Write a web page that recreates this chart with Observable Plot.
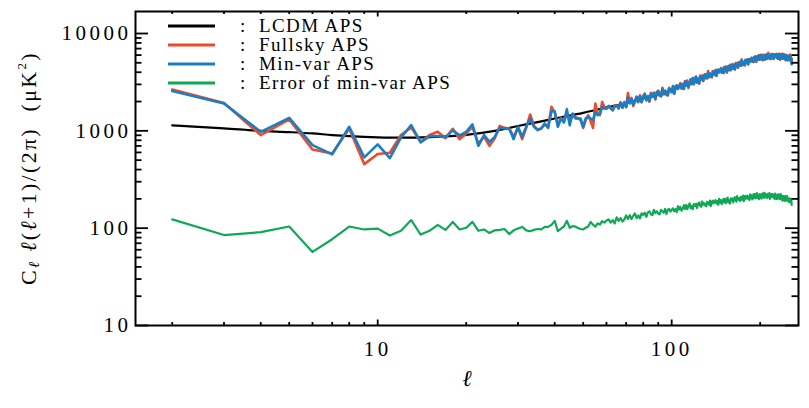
<!DOCTYPE html>
<html><head><meta charset="utf-8">
<script src="https://cdn.jsdelivr.net/npm/d3@7"></script>
<script src="https://cdn.jsdelivr.net/npm/@observablehq/plot@0.6"></script>
<style>
html,body{margin:0;padding:0;background:#fff;}
#chart{position:relative;width:809px;height:408px;}
</style></head><body><div id="chart"></div>
<script>
// multipoles l = 2..256
const ellFirst = 2, ellLast = 256;

// LCDM model spectrum (anchor multipoles and values, muK^2)
const lcdmEll = [2,3,4,5,6,7,8,9,10,12,15,20,25,30,35,40,50,60,70,80,90,100,110,120,130,140,150,160,170,180,190,200,220,240,256];
const lcdmVal = [1136,1060,1000,970,940,905,882,868,858,850,862,910,1000,1120,1230,1340,1530,1740,1930,2150,2380,2610,2940,3260,3580,3930,4200,4470,4840,5110,5400,5660,5840,5770,5450];

// Fullsky APS (red)
const fullsky = [
2660,1930,904,1310,644,586,1058,455,577,595,905,1083,771,905,977,840,1050,820,
940,1100,740,870,702,835,1125,1073,1058,868,
1073,822,1073,1473,1125,1030,1058,1163,1100,1763,
1550,1150,1360,1250,1508,1250,1450,1390,1340,1290,
1073,1290,1450,1250,1073,1910,1508,1450,1983,1763,
1680,1763,1720,1630,1835,1804,1700,
1971,1719,1978,1756,2450,1931,2180,1798,2019,2225,
1967,2318,1966,2285,2362,2064,2281,1998,2461,2225,
2472,2104,2511,2570,2291,2276,2774,2363,2590,2347,
2308,2768,2603,2550,2831,2408,2857,2914,2752,2824,
3088,2715,3049,2702,3179,2953,3293,2757,3074,3356,
3005,3501,3010,3453,3543,3144,3446,3053,3695,3361,
3696,3243,3762,3795,3462,3494,4105,3556,3875,3583,
3542,4124,3906,3909,4134,3685,4203,4214,4082,4081,
4411,3961,4351,3935,4443,4205,4591,3947,4314,4597,
4206,4763,4205,4704,4754,4353,4693,4255,4971,4579,
4982,4443,5060,5092,4684,4715,5417,4752,5116,4763,
4701,5363,5094,5098,5330,4832,5420,5420,5285,5265,
5648,5132,5586,5108,5652,5404,5842,5090,5514,5806,
5373,6002,5372,5937,5918,5474,5821,5304,6060,5580,
6007,5372,6029,6026,5555,5576,6324,5567,5949,5545,
5461,6155,5835,5830,6025,5490,6078,6031,5879,5802,
6187,5601,6042,5504,6063,5755,6180,5374,5778,6057,
5576,6182,5503,6039,6005,5533,5859,5317,6050,5546,
5947,5295,5915,5879,5389,5386,6083,5304,5629,4900];

// Min-var APS (blue)
const minvar = [
2570,1910,977,1360,713,573,1100,534,725,525,855,1144,760,882,882,860,1010,900,
977,1163,702,904,771,868,1073,1058,1058,822,
1100,868,1100,1340,1100,1017,1058,1190,1073,1592,
1592,1100,1340,1219,1670,1144,1508,1340,1340,1340,
1100,1340,1392,1340,1290,1566,1450,1508,1763,1700,
1700,1804,1700,1630,1763,1835,1700,
1926,1739,1918,1756,2200,1911,2100,1858,1999,2245,
1997,2268,1976,2215,2412,2064,2241,2018,2401,2265,
2427,2124,2451,2570,2331,2256,2694,2423,2570,2367,
2338,2718,2613,2480,2881,2408,2817,2934,2692,2864,
3020,2745,2959,2702,3239,2923,3173,2847,3044,3386,
3050,3426,3025,3348,3618,3144,3386,3083,3605,3421,
3615,3279,3654,3795,3534,3458,3961,3664,3839,3619,
3596,4034,3924,3783,4224,3685,4131,4250,3974,4153,
4321,4001,4231,3935,4523,4165,4431,4067,4274,4637,
4266,4663,4225,4564,4854,4353,4613,4295,4851,4659,
4883,4487,4928,5092,4772,4671,5241,4884,5072,4807,
4767,5253,5116,4944,5440,4832,5332,5464,5153,5353,
5536,5182,5436,5108,5752,5354,5642,5240,5464,5856,
5448,5877,5397,5762,6043,5474,5721,5354,5910,5680,
5895,5422,5879,6026,5655,5526,6124,5717,5899,5595,
5536,6030,5860,5655,6150,5490,5978,6081,5729,5902,
6075,5651,5892,5504,6163,5705,5980,5524,5728,6107,
5651,6057,5528,5864,6130,5533,5759,5367,5900,5646,
5835,5345,5765,5879,5489,5336,5883,5454,5579,4850];

// Error of min-var APS (green)
const minvarErr = [
123,85,91,104,57,77,104,97,99,84,
94,121,86,94,108,96,116,97,101,116,
94,97,89,95,96,98,87,95,99,103,
95,93,96,98,97,103,103,108,119,93,
99,104,119,101,105,104,100,98,97,101,
104,116,108,104,112,109,118,114,120,
123,114,121,112,129,119,127,117,123,135,
124,136,124,134,142,127,135,126,142,137,
144,131,145,149,139,136,154,143,149,141,
139,154,149,144,158,140,154,158,148,154,
160,149,157,146,168,155,165,151,159,172,
158,173,157,169,180,160,169,157,177,170,
178,161,178,184,170,166,188,174,181,171,
168,187,181,174,192,169,187,192,180,187,
194,179,189,174,200,183,194,177,185,200,
184,200,181,195,206,184,193,179,202,193,
202,184,201,208,194,188,213,197,204,193,
190,210,203,196,216,190,210,215,201,208,
216,200,210,195,223,205,216,198,207,224,
205,224,202,217,229,205,216,199,224,213,
223,201,222,228,211,205,231,213,221,207,
204,225,217,207,229,200,220,224,210,217,
223,206,216,199,227,208,218,199,207,223,
204,221,199,212,224,198,208,192,215,204,
212,191,209,214,198,191,214,196,202,189,
185,203,194,184,200,173];

const xTickLabels = [10, 100];
const xMinorTicks = [2,3,4,5,6,7,8,9,20,30,40,50,60,70,80,90,200];
const yTickLabels = [10, 100, 1000, 10000];
const yMinorTicks = [20,30,40,50,60,70,80,90,200,300,400,500,600,700,800,900,2000,3000,4000,5000,6000,7000,8000,9000];

const legendNames = ["LCDM APS", "Fullsky APS", "Min-var APS", "Error of min-var APS"];
const colors = {lcdm: "#000000", full: "#ee4a2b", minvar: "#1a7ec4", err: "#10a855"};

const W = 809, H = 408, mL = 135, mR = 11, mT = 11, mB = 83;
const plotW = W - mL - mR, plotH = H - mT - mB;
const FONT = "'Liberation Serif', 'Times New Roman', serif";

const ell = d3.range(ellFirst, ellLast + 1);
const toRows = vals => ell.map((l, i) => ({l, v: vals[i]}));
const lcdmRows = lcdmEll.map((l, i) => ({l, v: lcdmVal[i]}));

const tickW = 1.8;
const plot = Plot.plot({
  width: W, height: H,
  marginLeft: mL, marginRight: mR, marginTop: mT, marginBottom: mB,
  style: {fontFamily: FONT, background: "white", color: "black"},
  x: {type: "log", domain: [1.5, 270]},
  y: {type: "log", domain: [10, 16830]},
  marks: [
    Plot.line(lcdmRows, {x: "l", y: "v", stroke: colors.lcdm, strokeWidth: 2.2, curve: "monotone-x"}),
    Plot.line(toRows(fullsky), {x: "l", y: "v", stroke: colors.full, strokeWidth: 2.6}),
    Plot.line(toRows(minvar), {x: "l", y: "v", stroke: colors.minvar, strokeWidth: 2.6}),
    Plot.line(toRows(minvarErr), {x: "l", y: "v", stroke: colors.err, strokeWidth: 2.2}),
    // bottom ticks (inward)
    Plot.tickX(xTickLabels, {x: d => d, insetTop: plotH - 5.5, strokeWidth: tickW}),
    Plot.tickX(xMinorTicks, {x: d => d, insetTop: plotH - 3, strokeWidth: tickW}),
    // top ticks
    Plot.tickX(xTickLabels, {x: d => d, insetBottom: plotH - 5.5, strokeWidth: tickW}),
    Plot.tickX(xMinorTicks, {x: d => d, insetBottom: plotH - 3, strokeWidth: tickW}),
    // left ticks
    Plot.tickY(yTickLabels, {y: d => d, insetRight: plotW - 13, strokeWidth: tickW}),
    Plot.tickY(yMinorTicks, {y: d => d, insetRight: plotW - 6.5, strokeWidth: tickW}),
    // right ticks
    Plot.tickY(yTickLabels, {y: d => d, insetLeft: plotW - 13, strokeWidth: tickW}),
    Plot.tickY(yMinorTicks, {y: d => d, insetLeft: plotW - 6.5, strokeWidth: tickW}),
    Plot.frame({stroke: "black", strokeWidth: 2}),
    Plot.axisX({ticks: xTickLabels, tickSize: 0, tickPadding: 16, tickFormat: d => String(d), label: null, fontSize: 21}),
    Plot.axisY({ticks: yTickLabels, tickSize: 0, tickPadding: 4, tickFormat: d => String(d), label: null, fontSize: 21}),
    Plot.text(["ℓ"], {frameAnchor: "bottom", dy: 60, fontSize: 23, fontStyle: "italic"})
  ]
});

document.getElementById("chart").appendChild(plot);
const svg = d3.select(plot);
svg.selectAll('g[aria-label$="tick label"] text').attr("letter-spacing", "3.5px");

// y-axis title
const yt = svg.append("text")
  .attr("transform", `translate(31,${mT + plotH / 2}) rotate(-90)`)
  .attr("text-anchor", "middle").attr("dominant-baseline", "middle")
  .style("font-family", FONT).style("font-size", "22px").style("letter-spacing", "2.3px").attr("fill", "black");
yt.append("tspan").text("C");
yt.append("tspan").style("font-size", "15px").attr("dy", 5).style("font-style", "italic").text("ℓ");
yt.append("tspan").attr("dy", -5).text(" ");
yt.append("tspan").style("font-style", "italic").text("ℓ");
yt.append("tspan").text("(");
yt.append("tspan").style("font-style", "italic").text("ℓ");
yt.append("tspan").text("+1)/(2π)  (μK");
yt.append("tspan").style("font-size", "13px").attr("dy", -8).text("2");
yt.append("tspan").attr("dy", 8).text(")");

// legend
const legendColors = [colors.lcdm, colors.full, colors.minvar, colors.err];
const lg = svg.append("g").style("font-family", FONT).style("font-size", "19px")
  .style("letter-spacing", "1.4px").attr("text-anchor", "start");
legendNames.forEach((name, i) => {
  const y = 26 + i * 19;
  lg.append("line").attr("x1", 168).attr("x2", 215).attr("y1", y).attr("y2", y)
    .attr("stroke", legendColors[i]).attr("stroke-width", 2.8);
  lg.append("text").attr("x", 240).attr("y", y).attr("dy", "0.33em").attr("fill", "black")
    .attr("text-anchor", "start").style("font-family", FONT).attr("xml:space", "preserve").text(":  " + name);
});
</script>
</body></html>
